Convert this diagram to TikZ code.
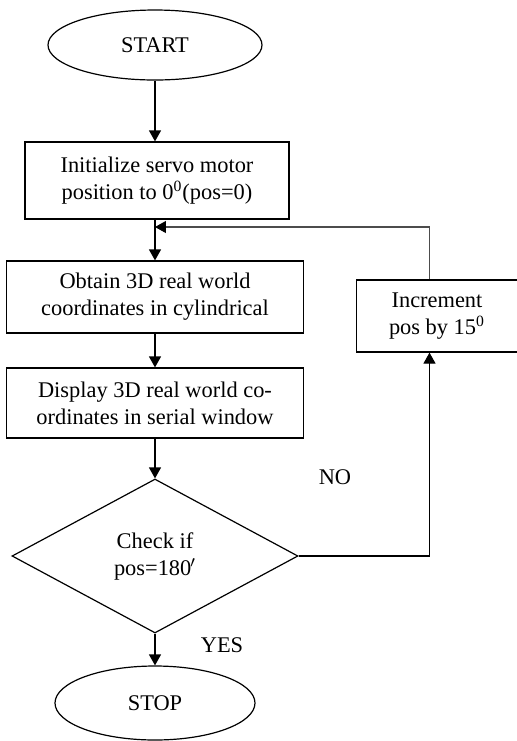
\documentclass[tikz,border=0pt]{standalone}
\usepackage{fontspec}
\setmainfont{Liberation Serif}
\usetikzlibrary{shapes,arrows.meta,calc}
\tikzstyle{term}=[draw,line width=0.6pt,ellipse,inner sep=0pt,minimum width=107pt,minimum height=35pt]
\tikzstyle{proc}=[draw,line width=0.6pt,rectangle,align=center,inner sep=0pt,minimum width=148.5pt,minimum height=36pt]
\tikzstyle{dec}=[draw,line width=0.6pt,diamond,align=center,inner sep=0pt,minimum width=143pt,minimum height=77pt]
\tikzstyle{arr}=[line width=0.6pt,-{Triangle[width=6pt,length=5.5pt,black]}]

\begin{document}
\begin{tikzpicture}[font=\fontsize{11.2}{13.5}\selectfont]
     \useasboundingbox (-77.5pt,22.5pt) rectangle (181pt,-348pt);
     \node [term] (start) {START};
     \node [proc, below of=start, node distance=67.75pt, xshift=1pt, minimum width=132pt, minimum height=38.5pt] (init) {Initialize servo motor\\position to 0\textsuperscript{0}(pos=0)};
     \node [proc, below of=start, node distance=126pt] (obtain) {Obtain 3D real world\\coordinates in cylindrical};
     \node [proc, below of=obtain, node distance=53pt, minimum height=35pt] (disp) {Display 3D real world co-\\ordinates in serial window};
     \node [dec, below of=disp, node distance=76.5pt] (check) {Check if\\pos=180\kern-0.5pt$^{\prime}$};
     \node [term, below of=check, node distance=73.5pt, minimum width=100pt, minimum height=37pt] (stop) {STOP};
     \node [proc, right of=obtain, node distance=141pt, yshift=-9.5pt, minimum width=80.5pt] (inc) {Increment\\pos by 15\textsuperscript{0}};
     \node [right of=check, node distance=90pt, yshift=39.5pt] (no) {NO};
     \node [right of=check, node distance=33.5pt, yshift=-44.5pt] (yes) {YES};
     \coordinate [below of=start, node distance=91pt] (join);

     \draw [arr] (start) -- (start |- init.north);
     \draw [arr] (init.south -| start) -- (start |- obtain.north);
     \draw [arr] (obtain.south -| start) -- (start |- disp.north);
     \draw [arr] (disp.south -| start) -- (check.north);
     \draw [arr] (check.south) -- (stop.north);
     \draw [arr] (check.east) -| ([xshift=-3.75pt]inc.south);
     \draw [arr, draw=black!70] ([xshift=-3.75pt]inc.north) |- (join);
    \end{tikzpicture}
\end{document}
